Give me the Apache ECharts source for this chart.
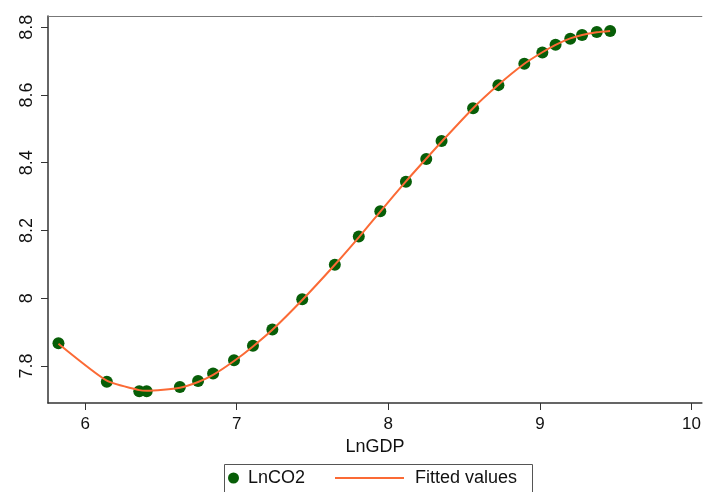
<!DOCTYPE html>
<html lang="en">
<head>
    <meta charset="UTF-8">
    <title>LnCO2 vs LnGDP</title>
    <script type="text/javascript" src="https://cdn.jsdelivr.net/npm/echarts@6/dist/echarts.min.js"></script>
    <style>
        body { margin: 0; background: #fff; }
    </style>
</head>
<body>
<div id="main" style="width: 704px; height: 492px;"></div>
<script type="text/javascript">
    // values
    var lnGDP = [5.824, 6.143, 6.357, 6.406, 6.625, 6.745, 6.844, 6.982, 7.107, 7.235,
        7.432, 7.647, 7.805, 7.947, 8.116, 8.250, 8.351, 8.559, 8.726, 8.897,
        9.016, 9.103, 9.200, 9.278, 9.375, 9.463];
    var lnCO2 = [7.867, 7.754, 7.726, 7.726, 7.738, 7.756, 7.778, 7.817, 7.860, 7.908,
        7.997, 8.099, 8.182, 8.257, 8.344, 8.411, 8.464, 8.561, 8.629, 8.692,
        8.725, 8.748, 8.766, 8.777, 8.786, 8.789];
    var fitted = [7.866, 7.757, 7.729, 7.727, 7.736, 7.753, 7.774, 7.815, 7.858, 7.907,
        7.995, 8.099, 8.180, 8.256, 8.345, 8.412, 8.462, 8.561, 8.630, 8.692,
        8.726, 8.748, 8.767, 8.777, 8.785, 8.789];
    var xTicks = [6, 7, 8, 9, 10];
    var yTicks = [7.8, 8, 8.2, 8.4, 8.6, 8.8];

    var font = 'Liberation Sans, Arial, sans-serif';
    var pts = lnGDP.map(function (x, i) { return [x, lnCO2[i]]; });
    var fit = lnGDP.map(function (x, i) { return [x, fitted[i]]; });

    var myChart = echarts.init(document.getElementById('main'));
    var option = {
        animation: false,
        grid: { left: 48, top: 16, right: 0, bottom: 89 },
        xAxis: [
            {
                type: 'value',
                min: 5.755,
                max: 10.068,
                name: 'LnGDP',
                nameLocation: 'middle',
                nameGap: 31,
                nameTextStyle: { fontFamily: font, fontSize: 18, color: '#111' },
                splitLine: { show: false },
                axisLine: { lineStyle: { color: '#333', width: 1.5 } },
                axisTick: { customValues: xTicks, length: 7, lineStyle: { color: '#333' } },
                axisLabel: {
                    customValues: xTicks,
                    margin: 13,
                    fontFamily: font, fontSize: 17, color: '#111'
                }
            },
            {
                // top edge of the plot region
                type: 'value',
                position: 'top',
                min: 5.755,
                max: 10.068,
                splitLine: { show: false },
                axisLine: { lineStyle: { color: '#777', width: 1 } },
                axisTick: { show: false },
                axisLabel: { show: false }
            }
        ],
        yAxis: {
            type: 'value',
            min: 7.691,
            max: 8.833,
            splitLine: { show: false },
            axisLine: { show: true, lineStyle: { color: '#333', width: 1.5 } },
            axisTick: { show: true, customValues: yTicks, length: 7, lineStyle: { color: '#333' } },
            axisLabel: {
                customValues: yTicks,
                rotate: 90,
                margin: 12,
                fontFamily: font, fontSize: 18, color: '#111'
            }
        },
        legend: [
            {
                data: [{ name: 'LnCO2', icon: 'circle' }],
                left: 228, top: 469, padding: 0,
                itemWidth: 11, itemHeight: 11,
                textStyle: { fontFamily: font, fontSize: 18, color: '#111', padding: [0, 0, 0, 4] }
            },
            {
                data: [{ name: 'Fitted values', icon: 'rect' }],
                left: 335, top: 469, padding: 0,
                itemWidth: 69, itemHeight: 2,
                textStyle: { fontFamily: font, fontSize: 18, color: '#111', padding: [0, 0, 0, 6] }
            }
        ],
        graphic: [
            {
                type: 'rect',
                left: 222, top: 462,
                shape: { width: 308, height: 40 },
                style: { fill: 'none', stroke: '#555', lineWidth: 1 }
            }
        ],
        series: [
            {
                name: 'LnCO2',
                type: 'scatter',
                data: pts,
                symbol: 'circle',
                symbolSize: 12,
                itemStyle: { color: '#075e07', opacity: 1 }
            },
            {
                name: 'Fitted values',
                type: 'line',
                data: fit,
                symbol: 'none',
                smooth: 0.2,
                lineStyle: { color: '#fb6a35', width: 2 },
                itemStyle: { color: '#fb6a35' }
            }
        ]
    };
    myChart.setOption(option);
</script>
</body>
</html>
